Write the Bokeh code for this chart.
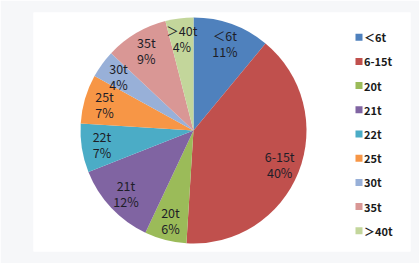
import numpy as np
from bokeh.plotting import figure
from bokeh.models import Range1d, ColumnDataSource
from bokeh.core.properties import value
from bokeh.embed import file_html
from bokeh.resources import INLINE

categories = ["＜6t", "6-15t", "20t", "21t", "22t", "25t", "30t", "35t", "＞40t"]
percents = [11, 40, 6, 12, 7, 7, 4, 9, 4]
colors = ["#4F81BD", "#C0504D", "#9BBB59", "#8064A2", "#4BACC6",
          "#F79646", "#98B0D8", "#D99795", "#C3D69B"]

W, H = 419, 263
L, R, T, B = 33, 410, 12, 251

p = figure(width=W, height=H, output_backend="svg", toolbar_location=None,
           x_range=Range1d(L, R), y_range=Range1d(H - B, H - T),
           min_border_left=L, min_border_right=W - R,
           min_border_top=T, min_border_bottom=H - B)
p.axis.visible = False
p.grid.visible = False
p.outline_line_color = None
p.background_fill_color = "white"
p.border_fill_color = "#f6f7f9"

cx, cy, r = 193, H - 130, 113
vals = np.array(percents, dtype=float)
frac = vals / vals.sum()
cum = np.concatenate([[0], np.cumsum(frac)])
start = np.pi / 2 - 2 * np.pi * cum[:-1]
end = np.pi / 2 - 2 * np.pi * cum[1:]
mid = (start + end) / 2

src = ColumnDataSource(dict(start=start, end=end, color=colors,
                            x=[cx] * len(vals), y=[cy] * len(vals)))
p.wedge(x="x", y="y", radius=r, start_angle="start", end_angle="end",
        direction="clock", fill_color="color", line_color=None, source=src)

lr = 0.82 * r
lx = cx + lr * np.cos(mid)
ly = cy + lr * np.sin(mid)
font = value("Noto Sans CJK SC")
p.text(x=lx, y=ly, text=categories, text_font=font, text_font_size="12.5px",
       text_color="#1e1e28", text_align="center", text_baseline="middle", y_offset=-8)
p.text(x=lx, y=ly, text=[f"{v}%" for v in percents], text_font=font,
       text_font_size="12.5px", text_color="#1e1e28", text_align="center",
       text_baseline="middle", y_offset=8)

# legend
idx = np.arange(len(categories))
gy = (H - 36.7) - idx * 24.2
p.scatter(x=[358.5] * len(idx), y=gy, marker="square", size=7,
          fill_color=colors, line_color=None)
p.text(x=[363.5] * len(idx), y=gy, text=categories, text_font=font,
       text_font_size="11px", text_font_style="bold", text_color="#1a1a1a",
       text_align="left", text_baseline="middle")

open("out.html", "w").write(file_html(p, INLINE))
